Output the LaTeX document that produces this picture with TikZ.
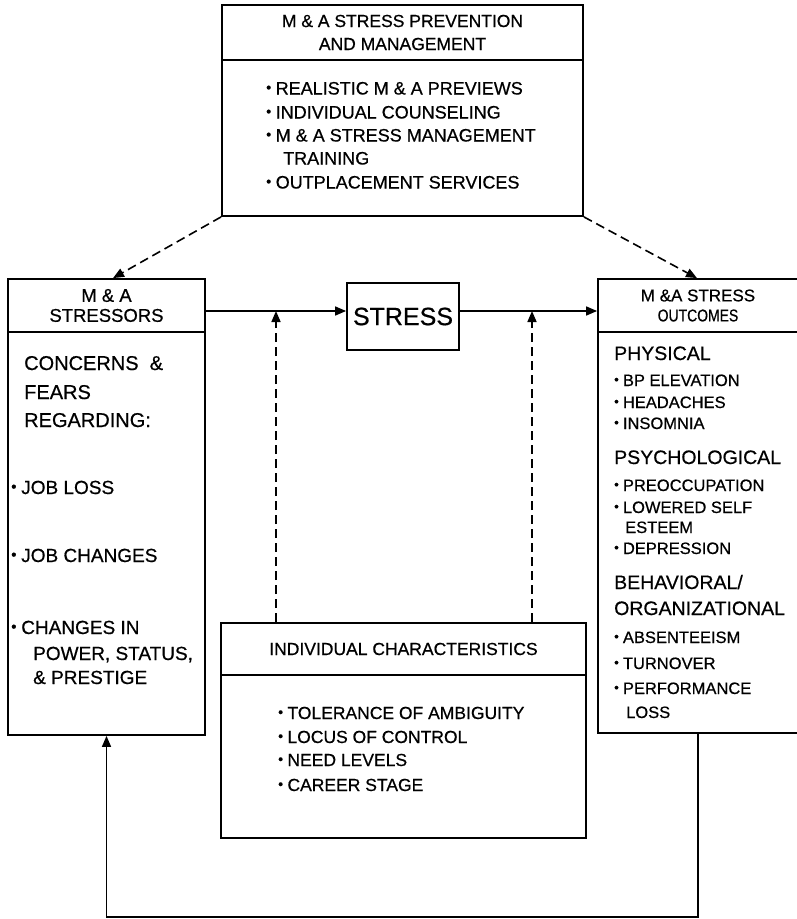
\documentclass[tikz,border=0pt]{standalone}
\usepackage{fontspec}
\setmainfont{Liberation Sans}[FakeBold=0.6]
\usetikzlibrary{arrows.meta}

\newcommand{\itemdot}{\raisebox{0.12em}{\scalebox{0.8}{\textbullet}}\hspace{0.25em}}

\begin{document}
\begin{tikzpicture}[x=1pt,y=-1pt,
  box/.style={draw, line width=1.8pt, inner sep=0pt},
  head/.style={box, align=center, font=\fontsize{17}{20}\selectfont},
  line/.style={anchor=base west, inner sep=0pt},
  small/.style={line, font=\fontsize{16.5}{20}\selectfont},
  mid/.style={line, font=\fontsize{17.5}{20}\selectfont},
  big/.style={line, font=\fontsize{19.5}{22}\selectfont},
  link/.style={line width=1.6pt, -{Triangle[length=11pt,width=9pt]}},
  dlink/.style={link, dash pattern=on 9pt off 5pt}]
\useasboundingbox (0,0) rectangle (796,919);
% prevention and management
\node[head, minimum width=361, minimum height=55, font=\fontsize{17.5}{23}\selectfont] (prevhead) at (402.5,32.5) {M \& A STRESS PREVENTION\\AND MANAGEMENT};
\node[box, minimum width=361, minimum height=156] (prevbody) at (402.5,138) {};
\node[mid, font=\fontsize{18}{20}\selectfont] (p1) at (266,94.5) {\itemdot REALISTIC M \& A PREVIEWS};
\node[mid, font=\fontsize{18}{20}\selectfont] (p2) at (266,118.5) {\itemdot INDIVIDUAL COUNSELING};
\node[mid, font=\fontsize{18}{20}\selectfont] (p3) at (266,141.5) {\itemdot M \& A STRESS MANAGEMENT};
\node[mid, font=\fontsize{18}{20}\selectfont] (p4) at (283,164.5) {TRAINING};
\node[mid, font=\fontsize{18}{20}\selectfont] (p5) at (266,188.5) {\itemdot OUTPLACEMENT SERVICES};
% stressors
\node[head, minimum width=197, minimum height=53, font=\fontsize{18.5}{20}\selectfont] (sthead) at (106.5,305.5) {M \& A\\STRESSORS};
\node[box, minimum width=197, minimum height=403] (stbody) at (106.5,533.5) {};
\node[big, font=\fontsize{20}{22}\selectfont] (s1) at (24,370) {CONCERNS~~\&};
\node[big, font=\fontsize{20}{22}\selectfont] (s2) at (24,399) {FEARS};
\node[big, font=\fontsize{20}{22}\selectfont] (s3) at (24,427) {REGARDING:};
\node[mid, font=\fontsize{19}{22}\selectfont] (s4) at (11,494) {\itemdot JOB LOSS};
\node[mid, font=\fontsize{19}{22}\selectfont] (s5) at (11,562) {\itemdot JOB CHANGES};
\node[mid, font=\fontsize{19}{22}\selectfont] (s6) at (11,634) {\itemdot CHANGES IN};
\node[mid, font=\fontsize{19}{22}\selectfont] (s7) at (33,660) {POWER, STATUS,};
\node[mid, font=\fontsize{19}{22}\selectfont] (s8) at (33,684) {\& PRESTIGE};
% stress
\node[box, minimum width=112, minimum height=67, font=\fontsize{25}{28}\selectfont] (stress) at (403,316.5) {STRESS};
% outcomes
\node[head, minimum width=200, minimum height=53] (outhead) at (698,305.5) {M \&A STRESS\\\scalebox{0.82}[1]{OUTCOMES}};
\node[box, minimum width=200, minimum height=401] (outbody) at (698,532.5) {};
\node[big] (o1) at (614,360) {PHYSICAL};
\node[small] (o2) at (614,386) {\itemdot BP ELEVATION};
\node[small] (o3) at (614,408) {\itemdot HEADACHES};
\node[small] (o4) at (614,429) {\itemdot INSOMNIA};
\node[big] (o5) at (614,464) {PSYCHOLOGICAL};
\node[small] (o6) at (614,491) {\itemdot PREOCCUPATION};
\node[small] (o7) at (614,513) {\itemdot LOWERED SELF};
\node[small] (o8) at (625,533) {ESTEEM};
\node[small] (o9) at (614,554) {\itemdot DEPRESSION};
\node[big] (o10) at (614,589) {BEHAVIORAL/};
\node[big] (o11) at (614,615) {ORGANIZATIONAL};
\node[small] (o12) at (614,643) {\itemdot ABSENTEEISM};
\node[small] (o13) at (614,669) {\itemdot TURNOVER};
\node[small] (o14) at (614,694) {\itemdot PERFORMANCE};
\node[small] (o15) at (626,718) {LOSS};
% individual characteristics
\node[head, minimum width=365, minimum height=52, font=\fontsize{17.5}{20}\selectfont] (ichead) at (403.5,649) {INDIVIDUAL CHARACTERISTICS};
\node[box, minimum width=365, minimum height=163] (icbody) at (403.5,756.5) {};
\node[mid] (i1) at (278,719) {\itemdot TOLERANCE OF AMBIGUITY};
\node[mid] (i2) at (278,743) {\itemdot LOCUS OF CONTROL};
\node[mid] (i3) at (278,766) {\itemdot NEED LEVELS};
\node[mid] (i4) at (278,791) {\itemdot CAREER STAGE};
% connectors
\coordinate (mainline) at (0,311);
\coordinate (jl) at (276,311);
\coordinate (jr) at (532,311);
\coordinate (fb) at (0,917);
\draw[dlink] (prevbody.south west) -- ([xshift=6.5pt]sthead.north);
\draw[dlink] (prevbody.south east) -- ([xshift=-1pt]outhead.north);
\draw[link] (sthead.east |- mainline) -- (stress.west |- mainline);
\draw[link] (stress.east |- mainline) -- (outhead.west |- mainline);
\draw[dlink] (ichead.north -| jl) -- (jl);
\draw[dlink] (ichead.north -| jr) -- (jr);
\draw[link] (outbody.south) -- (outbody.south |- fb) -- (stbody.south |- fb) -- (stbody.south);
\end{tikzpicture}
\end{document}
